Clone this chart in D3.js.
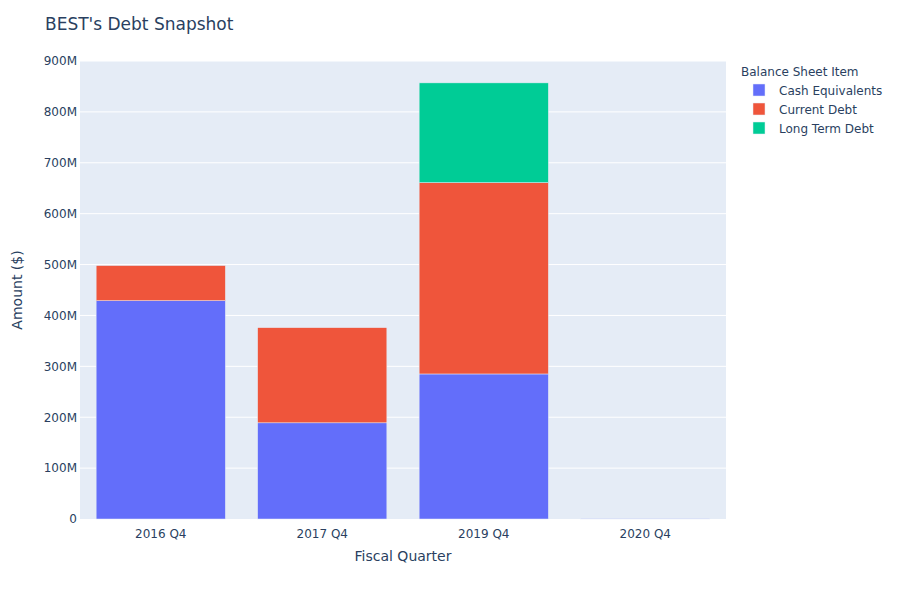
<!DOCTYPE html>
<html>
<head>
<meta charset="utf-8">
<script src="https://cdn.jsdelivr.net/npm/d3@7"></script>
<style>
  body { margin: 0; background: #fff; }
  text { font-family: "DejaVu Sans", sans-serif; fill: #2a3f5f; }
</style>
</head>
<body>
<div id="chart"></div>
<script>
// data (millions of $)
var quarters = ["2016 Q4", "2017 Q4", "2019 Q4", "2020 Q4"];
var seriesNames = ["Cash Equivalents", "Current Debt", "Long Term Debt"];
var cashEquivalents = [429, 189, 285, 0.6];
var currentDebt = [69, 187, 376, 0];
var longTermDebt = [0, 0, 196, 0];
var yTicks = [0, 100, 200, 300, 400, 500, 600, 700, 800, 900];
var colors = ["#636efa", "#EF553B", "#00cc96"];

var svgWidth = 900;
var svgHeight = 600;

// plot area
var margin = {
  top: 61,
  right: 174,
  bottom: 81,
  left: 80
};
var chartWidth = svgWidth - margin.left - margin.right;
var chartHeight = svgHeight - margin.top - margin.bottom;

var svg = d3.select("#chart").append("svg")
  .attr("width", svgWidth)
  .attr("height", svgHeight);

// build rows for the stack
var rows = quarters.map(function(q, i) {
  return {
    quarter: q,
    "Cash Equivalents": cashEquivalents[i],
    "Current Debt": currentDebt[i],
    "Long Term Debt": longTermDebt[i]
  };
});
var stacked = d3.stack().keys(seriesNames)(rows);

var xScale = d3.scaleBand()
  .domain(quarters)
  .range([0, chartWidth])
  .paddingInner(0.2)
  .paddingOuter(0.1);

var yScale = d3.scaleLinear()
  .domain([0, 900])
  .range([chartHeight, 0]);

var chartGroup = svg.append("g")
  .attr("transform", `translate(${margin.left}, ${margin.top})`);

chartGroup.append("rect")
  .attr("width", chartWidth)
  .attr("height", chartHeight)
  .attr("fill", "#E5ECF6");

// gridlines
chartGroup.selectAll(".grid")
  .data(yTicks.slice(1))
  .enter()
  .append("line")
  .attr("x1", 0)
  .attr("x2", chartWidth)
  .attr("y1", d => yScale(d))
  .attr("y2", d => yScale(d))
  .attr("stroke", "#fff")
  .attr("stroke-width", 1);

// bars
chartGroup.selectAll(".series")
  .data(stacked)
  .enter()
  .append("g")
  .attr("fill", (d, i) => colors[i])
  .selectAll("rect")
  .data(d => d)
  .enter()
  .append("rect")
  .attr("x", d => xScale(d.data.quarter))
  .attr("width", xScale.bandwidth())
  .attr("y", d => yScale(d[1]))
  .attr("height", d => yScale(d[0]) - yScale(d[1]))
  .attr("stroke", "#E5ECF6")
  .attr("stroke-width", 0.5);

// axes
var yAxis = d3.axisLeft(yScale)
  .tickValues(yTicks)
  .tickSize(0)
  .tickPadding(3)
  .tickFormat(d => d === 0 ? "0" : d + "M");

var xAxis = d3.axisBottom(xScale)
  .tickSize(0)
  .tickPadding(10);

var yG = chartGroup.append("g").call(yAxis);
var xG = chartGroup.append("g")
  .attr("transform", `translate(0, ${chartHeight})`)
  .call(xAxis);

[yG, xG].forEach(function(g) {
  g.select(".domain").remove();
  g.selectAll("text")
    .style("font-size", "12px")
    .attr("font-family", null)
    .attr("fill", "#2a3f5f");
});
svg.selectAll(".tick text").style("font-family", "'DejaVu Sans', sans-serif");

// title and axis labels
svg.append("text")
  .attr("x", 45)
  .attr("y", 30)
  .style("font-size", "17px")
  .text("BEST's Debt Snapshot");

svg.append("text")
  .attr("transform", "rotate(-90)")
  .attr("x", -(margin.top + chartHeight / 2))
  .attr("y", 22)
  .attr("text-anchor", "middle")
  .style("font-size", "14px")
  .text("Amount ($)");

svg.append("text")
  .attr("x", margin.left + chartWidth / 2)
  .attr("y", 561)
  .attr("text-anchor", "middle")
  .style("font-size", "14px")
  .text("Fiscal Quarter");

// legend
var legend = svg.append("g")
  .attr("transform", "translate(741, 0)");

legend.append("text")
  .attr("x", 0)
  .attr("y", 76)
  .style("font-size", "12px")
  .text("Balance Sheet Item");

var items = legend.selectAll(".item")
  .data(seriesNames)
  .enter()
  .append("g")
  .attr("transform", (d, i) => `translate(0, ${90 + i * 19})`);

items.append("rect")
  .attr("x", 12)
  .attr("y", -6)
  .attr("width", 12)
  .attr("height", 12)
  .attr("fill", (d, i) => colors[i])
  .attr("stroke", "#E5ECF6")
  .attr("stroke-width", 0.5);

items.append("text")
  .attr("x", 38)
  .attr("y", 4.5)
  .style("font-size", "12px")
  .text(d => d);
</script>
</body>
</html>
